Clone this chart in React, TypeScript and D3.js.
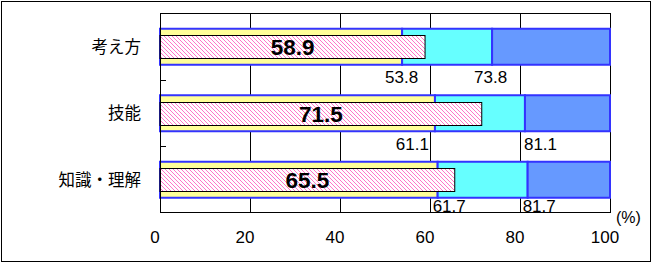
import React from "react";
import * as d3 from "d3";

const categories = ["考え方", "技能", "知識・理解"];
const scores = [58.9, 71.5, 65.5];
const lowerBounds = [53.8, 61.1, 61.7];
const upperBounds = [73.8, 81.1, 81.7];
const xTicks = [0, 20, 40, 60, 80, 100];

// label layout (style only)
const lowerAnchor = ["middle", "end", "start"];
const lowerDx = [-0.5, -6, -5];
const upperAnchor = ["middle", "start", "start"];
const upperDx = [-1.5, -1, -5];
const boundLabelDy = [36, 36.5, 32];

const W = 653;
const H = 266;
const plot = { left: 160, right: 610, top: 13, bottom: 212.5 };

export default function App() {
  const x = d3.scaleLinear().domain([0, 100]).range([plot.left, plot.right]);
  const y = d3
    .scaleBand<string>()
    .domain(categories)
    .range([plot.top, plot.bottom])
    .paddingInner(0)
    .paddingOuter(0);
  const bw = y.bandwidth();
  const stackH = 36;
  const scoreH = 23;
  const segColors = ["#FFFF99", "#66FFFF", "#6699FF"];
  const font = "'Liberation Sans', Arial, sans-serif";

  return (
    <svg
      width={W}
      height={H}
      style={{ position: "fixed", left: 0, top: 0, background: "#fff" }}
    >
      <defs>
        <pattern id="hatch" patternUnits="userSpaceOnUse" width="4" height="4">
          <rect width="4" height="4" fill="#fff" />
          <path
            d="M-1,-1 L5,5 M3,-1 L5,1 M-1,3 L1,5"
            stroke="#FF77C8"
            strokeWidth="1"
          />
        </pattern>
      </defs>
      <rect x={1.5} y={1.5} width={649} height={260} fill="#fff" stroke="#000" strokeWidth={1} />

      {/* gridlines */}
      {xTicks.slice(1, -1).map((t) => (
        <line
          key={"g" + t}
          x1={Math.round(x(t)) + 0.5}
          x2={Math.round(x(t)) + 0.5}
          y1={plot.top}
          y2={plot.bottom}
          stroke="#000"
          strokeWidth={1}
        />
      ))}
      {/* plot border */}
      <rect
        x={plot.left + 0.5}
        y={plot.top + 0.5}
        width={plot.right - plot.left}
        height={plot.bottom - plot.top - 0.5}
        fill="none"
        stroke="#000"
        strokeWidth={1}
      />

      {categories.map((c, i) => {
        const cy = (y(c) as number) + bw / 2 + 0.5;
        const bounds = [0, lowerBounds[i], upperBounds[i], 100];
        return (
          <g key={c}>
            {segColors.map((col, j) => (
              <rect
                key={j}
                x={x(bounds[j])}
                y={cy - stackH / 2}
                width={x(bounds[j + 1]) - x(bounds[j])}
                height={stackH}
                fill={col}
                stroke="#3333FF"
                strokeWidth={2}
              />
            ))}
            <rect
              x={x(0)}
              y={Math.round(cy - scoreH / 2) + 0.5}
              width={x(scores[i]) - x(0)}
              height={scoreH}
              fill="url(#hatch)"
              stroke="#000"
              strokeWidth={1}
            />
            <text
              x={(x(0) + x(scores[i])) / 2}
              y={cy + 8.5}
              textAnchor="middle"
              fontFamily={font}
              fontWeight="bold"
              fontSize={22.5}
              fill="#000"
            >
              {scores[i].toFixed(1)}
            </text>
            <text
              x={x(lowerBounds[i]) + lowerDx[i]}
              y={cy + boundLabelDy[i]}
              textAnchor={lowerAnchor[i]}
              fontFamily={font}
              fontSize={17}
              fill="#000"
            >
              {lowerBounds[i].toFixed(1)}
            </text>
            <text
              x={x(upperBounds[i]) + upperDx[i]}
              y={cy + boundLabelDy[i]}
              textAnchor={upperAnchor[i]}
              fontFamily={font}
              fontSize={17}
              fill="#000"
            >
              {upperBounds[i].toFixed(1)}
            </text>
            <text
              x={141}
              y={cy - 1}
              textAnchor="end"
              dominantBaseline="central"
              fontFamily="'Noto Sans CJK JP', sans-serif"
              fontSize={16.5}
              fill="#000"
            >
              {c}
            </text>
          </g>
        );
      })}

      {/* left axis + category ticks */}
      <line x1={plot.left + 0.5} x2={plot.left + 0.5} y1={plot.top} y2={plot.bottom} stroke="#000" />
      {categories.slice(1).map((c) => (
        <line
          key={"t" + c}
          x1={plot.left}
          x2={plot.left + 6}
          y1={Math.round(y(c) as number) + 0.5}
          y2={Math.round(y(c) as number) + 0.5}
          stroke="#000"
        />
      ))}

      {/* x tick labels */}
      {xTicks.map((t) => (
        <text
          key={"xl" + t}
          x={x(t) - 5}
          y={243}
          textAnchor="middle"
          fontFamily={font}
          fontSize={17}
          fill="#000"
        >
          {t}
        </text>
      ))}
      <text x={616} y={223} fontFamily={font} fontSize={16} fill="#000">
        (%)
      </text>
    </svg>
  );
}
